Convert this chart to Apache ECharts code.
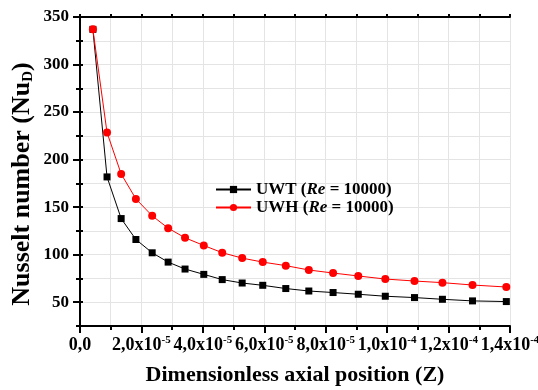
<!DOCTYPE html>
<html>
<head>
<meta charset="utf-8">
<script src="https://cdn.jsdelivr.net/npm/echarts@6/dist/echarts.min.js"></script>
<style>html,body{margin:0;padding:0;background:#fff}#c{width:538px;height:390px}</style>
</head>
<body>
<div id="c"></div>
<script>
// Dimensionless axial position Z
const zValues = [4.2e-6, 8.8e-6, 13.4e-6, 18.2e-6, 23.5e-6, 28.7e-6, 34.2e-6, 40.3e-6, 46.3e-6, 52.8e-6,
  59.5e-6, 67.0e-6, 74.5e-6, 82.4e-6, 90.6e-6, 99.4e-6, 108.9e-6, 118.0e-6, 127.8e-6, 138.8e-6];
// Nusselt number, UWT (Re = 10000)
const nuUWT = [337, 181.8, 138, 116, 102, 92.2, 84.9, 79.3, 73.8, 70.2,
  67.8, 64.4, 61.8, 60.2, 58.4, 56.3, 54.9, 53.1, 51.4, 50.7];
// Nusselt number, UWH (Re = 10000)
const nuUWH = [337, 228.5, 184.9, 158.7, 140.9, 127.9, 117.8, 109.7, 102.1, 96.4,
  92.2, 88.5, 83.9, 80.7, 77.6, 74.4, 72.3, 70.6, 68.1, 66.0];
// tick labels
const xTickMant = ['0,0', '2,0x10', '4,0x10', '6,0x10', '8,0x10', '1,0x10', '1,2x10', '1,4x10'];
const xTickExp = ['', '-5', '-5', '-5', '-5', '-4', '-4', '-4'];
const yTicks = [50, 100, 150, 200, 250, 300, 350];
const seriesNames = ['UWT', 'UWH'];

const FF = 'Liberation Serif';
const grid = {left: 80, right: 28, top: 17, bottom: 64, outerBoundsMode: 'none', containLabel: false};
const lineStyle = {color: '#000', width: 2};
const gridLine = {lineStyle: {color: '#e4e4e4', width: 1}};

const chart = echarts.init(document.getElementById('c'), null, {renderer: 'canvas'});
chart.setOption({
  animation: false,
  backgroundColor: '#fff',
  grid: [grid, grid],
  graphic: [{
    type: 'text', x: 22, y: 184, rotation: Math.PI / 2,
    style: {
      text: '{a|Nusselt number (Nu}{s|D}{a|)}',
      align: 'center', verticalAlign: 'middle',
      rich: {
        a: {fontFamily: FF, fontWeight: 'bold', fontSize: 26, fill: '#000', lineHeight: 28},
        s: {fontFamily: FF, fontWeight: 'bold', fontSize: 15, fill: '#000', verticalAlign: 'bottom', lineHeight: 13}
      }
    }
  }],
  legend: {
    left: 210, top: 176, orient: 'vertical', itemGap: 1,
    itemWidth: 35, itemHeight: 9,
    data: seriesNames,
    formatter: n => '{b|' + n + ' (}{i|Re}{b| = 10000)}',
    textStyle: {
      fontFamily: FF, fontWeight: 'bold', fontSize: 17, color: '#000',
      rich: {
        b: {fontFamily: FF, fontWeight: 'bold', fontSize: 17, color: '#000'},
        i: {fontFamily: FF, fontWeight: 'bold', fontStyle: 'italic', fontSize: 17, color: '#000'}
      }
    }
  },
  xAxis: [{
    gridIndex: 0, type: 'value', position: 'bottom', min: 0, max: 1.4e-4, interval: 2e-5,
    axisLine: {lineStyle}, axisTick: {length: 7, lineStyle: {width: 2, color: '#000'}},
    minorTick: {show: true, splitNumber: 2, length: 4, lineStyle: {width: 2, color: '#000'}},
    splitLine: {show: true, ...gridLine}, minorSplitLine: {show: true, ...gridLine},
    axisLabel: {
      margin: 9, hideOverlap: false,
      formatter: (v, i) => xTickExp[i] ? '{m|' + xTickMant[i] + '}{s|' + xTickExp[i] + '}' : '{m|' + xTickMant[i] + '}',
      rich: {
        m: {fontFamily: FF, fontWeight: 'bold', fontSize: 18, color: '#000', lineHeight: 20},
        s: {fontFamily: FF, fontWeight: 'bold', fontSize: 11, color: '#000', verticalAlign: 'top', lineHeight: 11}
      }
    },
    name: 'Dimensionless axial position (Z)', nameLocation: 'middle', nameGap: 38,
    nameTextStyle: {fontFamily: FF, fontWeight: 'bold', fontSize: 22, color: '#000'}
  }, {
    gridIndex: 0, type: 'value', position: 'top', min: 0, max: 1.4e-4, interval: 2e-5,
    axisLine: {lineStyle}, axisTick: {length: 3, lineStyle: {width: 2, color: '#000'}},
    minorTick: {show: true, splitNumber: 2, length: 3, lineStyle: {width: 2, color: '#000'}},
    splitLine: {show: false}, axisLabel: {show: false}
  }, {
    gridIndex: 1, type: 'value', show: false, min: 0, max: 1.4e-4
  }],
  yAxis: [{
    gridIndex: 0, type: 'value', position: 'left', min: 25, max: 350, interval: 25,
    axisLine: {lineStyle}, axisTick: {length: 4, lineStyle: {width: 2, color: '#000'}},
    splitLine: {show: true, ...gridLine}, axisLabel: {show: false}
  }, {
    gridIndex: 0, type: 'value', position: 'right', min: 25, max: 350, interval: 25,
    axisLine: {lineStyle}, axisTick: {length: 3, lineStyle: {width: 2, color: '#000'}},
    splitLine: {show: false}, axisLabel: {show: false}
  }, {
    gridIndex: 1, type: 'value', position: 'left', min: 25, max: 350, interval: 25,
    axisLine: {show: false},
    axisTick: {customValues: yTicks, length: 7, lineStyle: {width: 2, color: '#000'}},
    splitLine: {show: false},
    axisLabel: {customValues: yTicks, margin: 11, fontFamily: FF, fontWeight: 'bold', fontSize: 17, color: '#000'}
  }],
  series: [{
    name: seriesNames[0], type: 'line', xAxisIndex: 0, yAxisIndex: 0,
    data: zValues.map((z, i) => [z, nuUWT[i]]),
    symbol: 'rect', symbolSize: 7, color: '#000',
    lineStyle: {width: 1, color: '#000'}, itemStyle: {color: '#000'}
  }, {
    name: seriesNames[1], type: 'line', xAxisIndex: 0, yAxisIndex: 0,
    data: zValues.map((z, i) => [z, nuUWH[i]]),
    symbol: 'circle', symbolSize: 8, color: '#ff0000',
    lineStyle: {width: 1, color: '#ff0000'}, itemStyle: {color: '#ff0000'}
  }]
});
</script>
</body>
</html>
